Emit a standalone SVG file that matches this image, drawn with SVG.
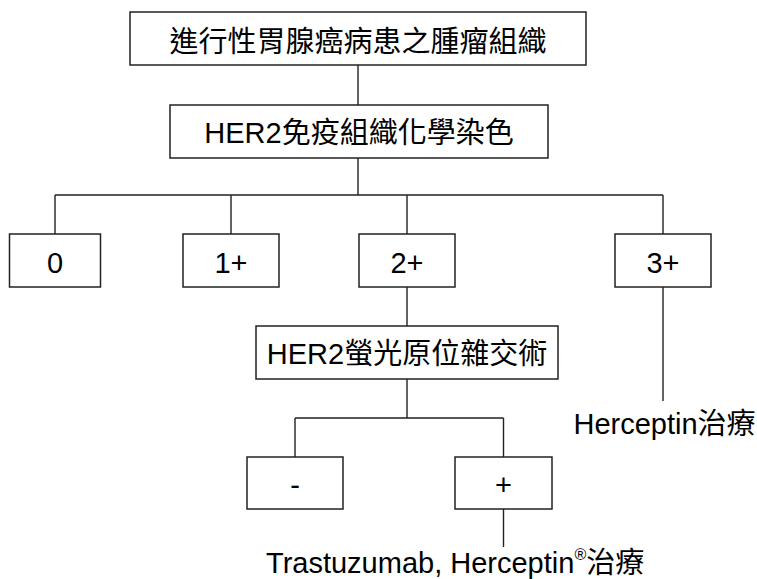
<svg xmlns="http://www.w3.org/2000/svg" width="757" height="579" viewBox="0 0 757 579">
<style>
.box{fill:#fff;stroke:#222;stroke-width:1.5}
.ln{fill:none;stroke:#222;stroke-width:1.4}
.t{font-family:"Liberation Sans","Noto Sans CJK TC",sans-serif;font-size:29px;fill:#000}
.c{text-anchor:middle}
</style>
<rect width="757" height="579" fill="#fff"/>
<g id="connectors">
<path class="ln" d="M358,65V105 M358,158V195 M55,195H663 M55,195V234 M231,195V234 M407,195V234 M663,195V234 M407,287V326 M663,287V401 M407,379V418 M295,418H503.5 M295,418V457 M503.5,418V457 M503.5,509V547"/>
</g>
<g id="n-tissue"><rect class="box" x="130" y="12" width="456" height="53"/><text class="t c" x="358" y="52">進行性胃腺癌病患之腫瘤組織</text></g>
<g id="n-ihc"><rect class="box" x="170" y="105" width="378" height="53"/><text class="t c" x="359" y="143">HER2免疫組織化學染色</text></g>
<g id="n-0"><rect class="box" x="9.5" y="234" width="91" height="53"/><text class="t c" x="55" y="272.5">0</text></g>
<g id="n-1"><rect class="box" x="183" y="234" width="96" height="53"/><text class="t c" x="231" y="272.5">1+</text></g>
<g id="n-2"><rect class="box" x="359" y="234" width="96" height="53"/><text class="t c" x="407" y="272.5">2+</text></g>
<g id="n-3"><rect class="box" x="615" y="234" width="96" height="53"/><text class="t c" x="663" y="272.5">3+</text></g>
<g id="n-fish"><rect class="box" x="256" y="326" width="302" height="53"/><text class="t c" x="407" y="364">HER2螢光原位雜交術</text></g>
<g id="n-neg"><rect class="box" x="247" y="457" width="96" height="52"/><text class="t c" x="295" y="494.5">-</text></g>
<g id="n-pos"><rect class="box" x="455" y="457" width="97" height="52"/><text class="t c" x="503.5" y="494.5">+</text></g>
<g id="n-herc3"><text class="t" x="573.5" y="434">Herceptin治療</text></g>
<g id="n-herc2"><text class="t" x="266" y="573">Trastuzumab, Herceptin<tspan font-size="16" dy="-13">®</tspan><tspan dy="13">治療</tspan></text></g>
</svg>
